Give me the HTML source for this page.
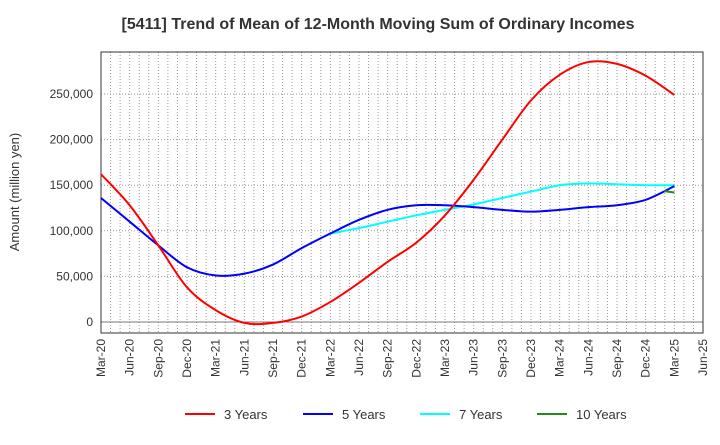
<!DOCTYPE html>
<html><head><meta charset="utf-8"><style>
body{margin:0;background:#fff;font-family:"Liberation Sans",sans-serif}
svg text{font-family:"Liberation Sans",sans-serif}
</style></head><body>
<svg id="c" width="720" height="440"></svg>
<script>
const categories=["Mar-20","Jun-20","Sep-20","Dec-20","Mar-21","Jun-21","Sep-21","Dec-21","Mar-22","Jun-22","Sep-22","Dec-22","Mar-23","Jun-23","Sep-23","Dec-23","Mar-24","Jun-24","Sep-24","Dec-24","Mar-25","Jun-25"];
const yTicks=[0,50000,100000,150000,200000,250000];
const s3=[162000,128000,84000,38000,13000,-1000,-1000,6000,22000,43000,66000,87000,117000,156000,200000,243000,271000,285000,283000,270000,249000];
const s5=[136000,110000,84000,60000,51000,53000,63000,81000,97000,112000,123000,128000,128000,126000,123000,121000,123000,126000,128000,134000,149000];
const s7=[null,null,null,null,null,null,null,null,97000,103000,110000,117000,123000,129000,136000,143000,150000,152000,151000,150000,150000];
const s10=[null,null,null,null,null,null,null,null,null,null,null,null,null,null,null,null,null,null,null,null,142000];
const NS="http://www.w3.org/2000/svg",svg=document.getElementById('c');
const L=101,R=703,T=52,B=333;
const x=i=>L+i*(R-L)/(categories.length-1);
const y=v=>322-v*228/250000;
function el(t,a,p){const e=document.createElementNS(NS,t);for(const k in a)e.setAttribute(k,a[k]);(p||svg).appendChild(e);return e;}
const t=el('text',{x:378,y:29,'text-anchor':'middle','font-size':16,'font-weight':'bold',fill:'#333'});t.textContent="[5411]  Trend of Mean of 12-Month Moving Sum of Ordinary Incomes";

const g=el('g',{});
for(let i=0;i<categories.length;i++){for(let k=0;k<3;k++){const xx=x(i)+k*(R-L)/(categories.length-1)/3;if(xx<R)el('line',{x1:xx,x2:xx,y1:T,y2:B,stroke:'#999','stroke-dasharray':'1,2','stroke-width':1},g);}}
yTicks.forEach(v=>{el('line',{x1:L,x2:R,y1:y(v),y2:y(v),stroke:v===0?'#777':'#999','stroke-dasharray':v===0?'':'1,2'},g);
const tx=el('text',{x:L-8,y:y(v)+4,'text-anchor':'end','font-size':12,fill:'#333'});tx.textContent=v.toLocaleString('en-US');
});
el('rect',{x:L,y:T,width:R-L,height:B-T,fill:'none',stroke:'#333'});
categories.forEach((c,i)=>{const tx=el('text',{transform:`translate(${x(i)+4},${B+6}) rotate(-90)`,'text-anchor':'end','font-size':12,fill:'#333'});tx.textContent=c;
});
const yt=el('text',{transform:'translate(19,192) rotate(-90)','text-anchor':'middle','font-size':13,fill:'#333'});yt.textContent="Amount (million yen)";

function path(arr){const p=[];arr.forEach((v,i)=>{if(v!==null)p.push([x(i),y(v)]);});if(p.length<2)return null;
let d=`M${p[0][0]},${p[0][1]}`;for(let i=0;i<p.length-1;i++){const p0=p[i-1]||p[i],p1=p[i],p2=p[i+1],p3=p[i+2]||p2;
d+=`C${p1[0]+(p2[0]-p0[0])/6},${p1[1]+(p2[1]-p0[1])/6} ${p2[0]-(p3[0]-p1[0])/6},${p2[1]-(p3[1]-p1[1])/6} ${p2[0]},${p2[1]}`;}return d;}
const series=[[s7,'#00ffff','line-7-years'],[s5,'#0000ff','line-5-years'],[s3,'#ff0000','line-3-years']];
series.forEach(([s,c,n])=>{const l=el('path',{d:path(s),fill:'none',stroke:c,'stroke-width':2});});
s10.forEach((v,i)=>{if(v!==null){const l=el('line',{x1:x(i)-10,x2:x(i),y1:y(v+1500),y2:y(v),stroke:'#228b22','stroke-width':2});}});
const leg=[['3 Years','#ff0000',185],['5 Years','#0000ff',303],['7 Years','#00ffff',420],['10 Years','#228b22',537]];
leg.forEach(([n,c,lx])=>{const gg=el('g',{});
el('line',{x1:lx,x2:lx+30,y1:414,y2:414,stroke:c,'stroke-width':2},gg);const tx=el('text',{x:lx+39,y:419,'font-size':13,fill:'#333'},gg);tx.textContent=n;});
</script></body></html>
